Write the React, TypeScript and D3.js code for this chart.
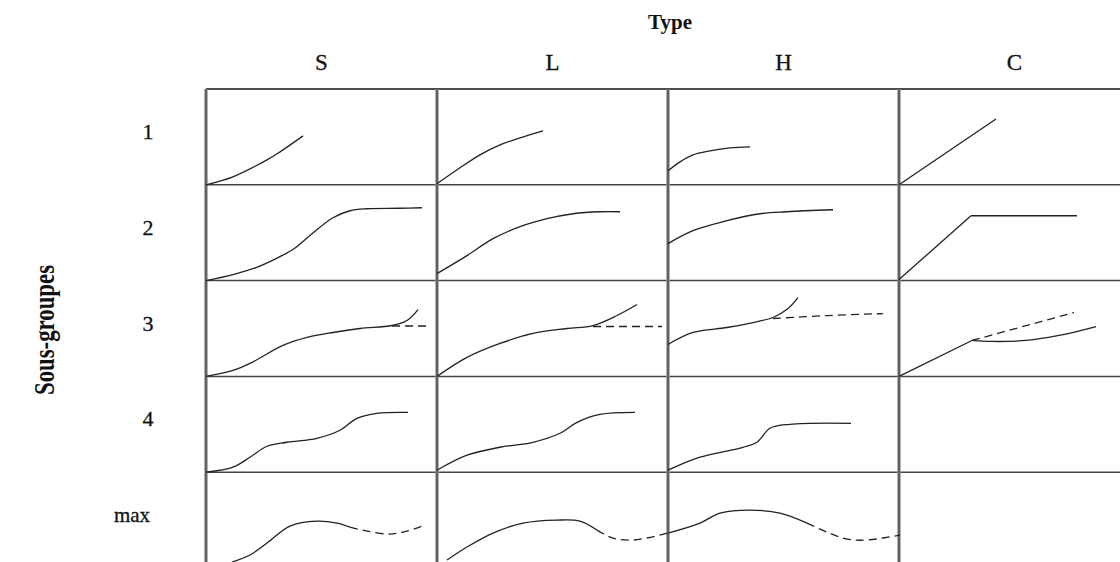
import React from "react";
import * as d3 from "d3";

// ---- categories ----
const types = ["S", "L", "H", "C"];
const subgroups = ["1", "2", "3", "4", "max"];

// ---- curve values: [x, y] in cell units (x 0..231, y 0..96) ----
const s1 = [[0, 0], [27, 8], [61, 25], [74, 33], [97, 49]];
const l1 = [[0, 1], [23, 17], [43, 30], [63, 40], [83, 47], [106, 54]];
const h1 = [[0, 14], [12, 23], [25, 30], [42, 34], [62, 37], [82, 38]];
const c1 = [[0, 0], [97, 66]];

const s2 = [[0, 0], [27, 6], [50, 13], [70, 22], [88, 32], [106, 47], [127, 63], [144, 70], [161, 72], [194, 72.5], [216, 73]];
const l2 = [[0, 7], [30, 25], [56, 42], [83, 54], [110, 62], [136, 67], [163, 69], [183, 69]];
const h2 = [[0, 37], [25, 50], [59, 60], [92, 67], [119, 69], [165, 71]];
const c2a = [[0, 1], [72, 65]];
const c2b = [[72, 65], [178, 65]];

const s3 = [[0, 0], [27, 6], [44, 13], [77, 31], [101, 39], [127, 44], [154, 48], [186, 51], [201, 56], [212, 67]];
const s3dash = [[186, 50.5], [224, 50.5]];
const l3 = [[0, 0], [30, 19], [63, 33], [96, 43], [130, 48], [156, 51], [180, 61], [200, 72]];
const l3dash = [[156, 50], [225, 50]];
const h3 = [[0, 32], [25, 44], [59, 49], [85, 54], [105, 59], [120, 68], [130, 79]];
const h3dash = [[105, 58], [160, 61], [215, 63]];
const c3a = [[0, 0], [73, 36]];
const c3b = [[73, 36], [93, 35], [127, 36], [160, 41], [197, 50]];
const c3dash = [[73, 36], [175, 64]];

const s4 = [[0, 0], [27, 5], [44, 15], [61, 26], [81, 30], [111, 34], [134, 42], [151, 54], [171, 59], [202, 60]];
const l4 = [[0, 2], [30, 17], [63, 25], [96, 30], [123, 39], [140, 50], [163, 58], [198, 60]];
const h4 = [[0, 2], [32, 15], [75, 25], [89, 30], [102, 44], [122, 48], [183, 49]];

const sMax = [[26, 6], [44, 13], [61, 25], [84, 42], [111, 47], [131, 45], [144, 41]];
const sMaxDash = [[144, 41], [161, 37], [184, 34], [201, 37], [216, 42]];
const lMax = [[10, 8], [30, 21], [56, 35], [86, 45], [120, 48], [143, 47], [160, 38]];
const lMaxDash = [[160, 38], [176, 30], [196, 28], [231, 35]];
const hMax = [[0, 35], [32, 45], [52, 55], [82, 58], [112, 55], [139, 45]];
const hMaxDash = [[139, 45], [159, 36], [179, 29], [199, 28], [232, 33]];

const smoothSeries = [
  { type: "S", group: "1", points: s1 },
  { type: "L", group: "1", points: l1 },
  { type: "H", group: "1", points: h1 },
  { type: "S", group: "2", points: s2 },
  { type: "L", group: "2", points: l2 },
  { type: "H", group: "2", points: h2 },
  { type: "S", group: "3", points: s3 },
  { type: "L", group: "3", points: l3 },
  { type: "H", group: "3", points: h3 },
  { type: "C", group: "3", points: c3b },
  { type: "S", group: "4", points: s4 },
  { type: "L", group: "4", points: l4 },
  { type: "H", group: "4", points: h4 },
  { type: "S", group: "max", points: sMax },
  { type: "L", group: "max", points: lMax },
  { type: "H", group: "max", points: hMax },
];
const straightSeries = [
  { type: "C", group: "1", points: c1 },
  { type: "C", group: "2", points: c2a },
  { type: "C", group: "2", points: c2b },
  { type: "C", group: "3", points: c3a },
];
const dashedSeries = [
  { type: "S", group: "3", points: s3dash },
  { type: "L", group: "3", points: l3dash },
  { type: "H", group: "3", points: h3dash },
  { type: "C", group: "3", points: c3dash },
  { type: "S", group: "max", points: sMaxDash },
  { type: "L", group: "max", points: lMaxDash },
  { type: "H", group: "max", points: hMaxDash },
];

const W = 1120;
const H = 562;
const FONT = "'Liberation Serif', 'Times New Roman', serif";

export default function App() {
  const xBand = d3.scaleBand().domain(types).range([206, 1130]).padding(0);
  const yBand = d3.scaleBand().domain(subgroups).range([89, 568]).padding(0);
  const cw = xBand.bandwidth();
  const rh = yBand.bandwidth();
  const xc = d3.scaleLinear().domain([0, 231]).range([0, cw]);
  const yc = d3.scaleLinear().domain([0, 96]).range([rh, 0]);

  const mk = (curve: any) => (s: any) => {
    const ox = xBand(s.type) as number;
    const oy = yBand(s.group) as number;
    return d3
      .line<number[]>()
      .x((d) => ox + xc(d[0]))
      .y((d) => oy + yc(d[1]))
      .curve(curve)(s.points as number[][]) as string;
  };
  const smooth = mk(d3.curveCatmullRom.alpha(0.5));
  const straight = mk(d3.curveLinear);

  const rowLines = subgroups.slice(0, 4).map((g) => yBand(g) as number);
  rowLines.push((yBand("4") as number) + rh);

  return (
    <svg width={W} height={H} style={{ position: "absolute", left: 0, top: 0, background: "#fff" }}>
      <rect x={0} y={0} width={W} height={H} fill="#fff" />
      <text x={670} y={29} textAnchor="middle" fontFamily={FONT} fontWeight="bold" fontSize={21} fill="#111">
        Type
      </text>
      {types.map((t) => (
        <text key={t} x={(xBand(t) as number) + cw / 2} y={70} textAnchor="middle" fontFamily={FONT} fontSize={23} fill="#111" stroke="#111" strokeWidth={0.3}>
          {t}
        </text>
      ))}
      {subgroups.map((g) => (
        <text key={g} x={g === "max" ? 132 : 148} y={(yBand(g) as number) + rh / 2 + 2} textAnchor="middle" fontFamily={FONT} fontSize={g === "max" ? 21 : 22} fill="#111" stroke="#111" strokeWidth={0.3}>
          {g}
        </text>
      ))}
      <text
        transform="translate(54,330) rotate(-90)"
        textAnchor="middle"
        fontFamily={FONT}
        fontWeight="bold"
        fontSize={30}
        textLength={130}
        lengthAdjust="spacingAndGlyphs"
        fill="#111"
      >
        Sous-groupes
      </text>

      {/* horizontal grid lines */}
      {rowLines.map((y, i) => (
        <line key={i} x1={206} x2={W} y1={y} y2={y} stroke={i === 0 ? "#111" : "#444"} strokeWidth={1.5} />
      ))}
      {/* vertical grid lines */}
      {types.map((t) => (
        <g key={t}>
          <line x1={xBand(t) as number} x2={xBand(t) as number} y1={89} y2={H} stroke="#999" strokeWidth={3.5} />
          <line x1={xBand(t) as number} x2={xBand(t) as number} y1={89} y2={H} stroke="#444" strokeWidth={1.3} />
        </g>
      ))}

      {smoothSeries.map((s, i) => (
        <path key={"s" + i} d={smooth(s)} fill="none" stroke="#222" strokeWidth={1.3} />
      ))}
      {straightSeries.map((s, i) => (
        <path key={"l" + i} d={straight(s)} fill="none" stroke="#222" strokeWidth={1.3} />
      ))}
      {dashedSeries.map((s, i) => (
        <path key={"d" + i} d={smooth(s)} fill="none" stroke="#222" strokeWidth={1.3} strokeDasharray="8 5" />
      ))}
    </svg>
  );
}
